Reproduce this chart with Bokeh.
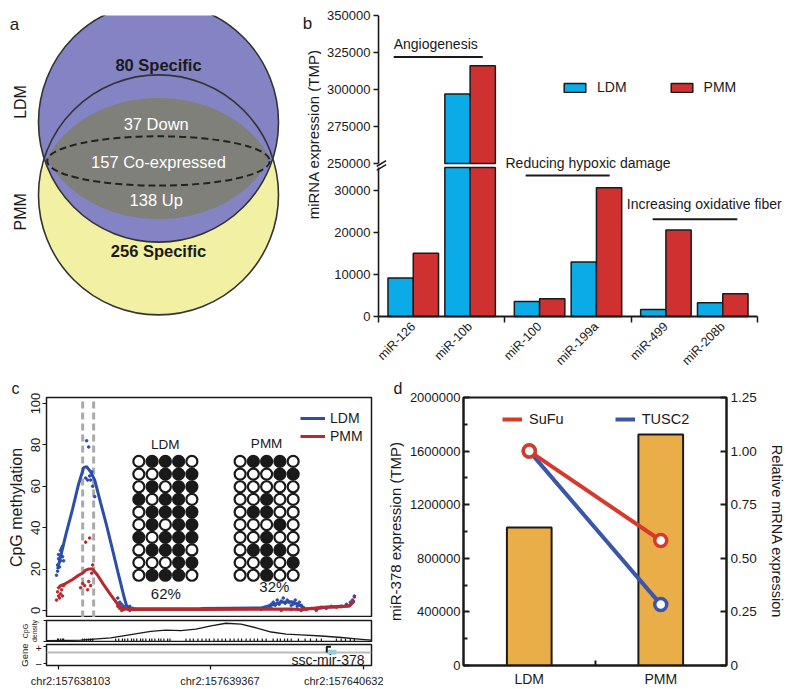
import numpy as np
from math import pi
from bokeh.plotting import figure
from bokeh.layouts import column, row
from bokeh.models import (Range1d, FixedTicker, Label, Legend, LegendItem, LinearAxis, Title,
                          NumeralTickFormatter, PrintfTickFormatter)
from bokeh.core.properties import value
from bokeh.embed import file_html
from bokeh.resources import INLINE

FONT = "Liberation Sans"
INK = "#1a1a1a"

# ======================= DATA =======================
# (a) Venn diagram of expressed miRNAs
venn_sets = ["LDM", "PMM"]
venn_ldm_specific = 80
venn_down = 37
venn_coexpressed = 157
venn_up = 138
venn_pmm_specific = 256

# (b) miRNA expression (TMP)
mirnas = ["miR-126", "miR-10b", "miR-100", "miR-199a", "miR-499", "miR-208b"]
functions = ["Angiogenesis", "Reducing hypoxic damage", "Increasing oxidative fiber"]
series_b = ["LDM", "PMM"]
ldm_tmp = [9200, 297000, 3550, 13000, 1650, 3300]
pmm_tmp = [15100, 316000, 4250, 30700, 20600, 5450]
b_lower_ticks = [0, 10000, 20000, 30000]
b_upper_ticks = [250000, 275000, 300000, 325000, 350000]

# (c) CpG methylation around ssc-mir-378 (positions: bp offset from region_start)
region_start = 157638103
chr_ticks = [157638103, 157639367, 157640632]
highlight_bp = [157638303, 157638394]
ldm_fit_off = [-8, 17, 58, 116, 166, 208, 233, 266, 300, 349, 399, 449, 499, 541, 566, 600,
               1181, 1681, 1764, 1847, 1930, 1988, 2038, 2138, 2221, 2346, 2413, 2454]
ldm_fit_val = [20, 26, 36, 49, 61, 69, 69.5, 67, 63, 52, 41, 29, 17, 7, 2, 0.8,
               1, 1.2, 2.5, 4, 4.2, 3, 1, 0.8, 1.5, 2, 2.2, 5]
pmm_fit_off = [-8, 17, 58, 116, 166, 200, 225, 250, 283, 324, 374, 433, 491, 532, 582,
               1181, 1930, 2013, 2096, 2180, 2346, 2413, 2454]
pmm_fit_val = [10.5, 12, 13, 15, 17, 18, 19.5, 20, 20, 17, 12.5, 7.5, 3, 1, 0.5,
               0.5, 0.7, 0.3, 1, 1.6, 1.8, 2.3, 4.5]
ldm_dot_off = [-17, -8, -8, 0, 0, 8, 17, 17, 25, 33, 33, 42,
               225, 233, 241, 250, 258, 266, 275, 283, 300,
               491, 508, 524, 541, 557, 574, 591, 616, 640,
               1747, 1764, 1781, 1797, 1814, 1830, 1847, 1864, 1880, 1897, 1914, 1930, 1947, 1963,
               1980, 1997, 2013, 2030,
               2346, 2388, 2421, 2438, 2454]
ldm_dot_val = [17, 19, 22, 25, 27, 21, 24, 29, 30, 26, 31, 24,
               64, 82, 63, 79, 65, 63, 67, 60, 55,
               6, 4, 3, 2, 1, 1.5, 2, 1, 0.5,
               2, 3, 4, 2.5, 5, 3, 4.5, 6, 3.5, 5, 4, 2.5, 3, 5, 2, 4, 2.5, 1.5,
               2, 3, 4, 5, 7]
pmm_dot_off = [-17, -8, 0, 8, 17, 25, 33, 42,
               183, 200, 216, 225, 241, 250, 258, 266, 275, 283,
               491, 508, 524, 541, 566, 591, 616,
               1680, 1764, 1847, 1930, 2013, 2055, 2096, 2138, 2180, 2221, 2263, 2305, 2346, 2388,
               2421, 2438, 2454]
pmm_dot_val = [5, 9, 7, 6, 8, 10, 7, 12,
               11, 13, 12, 33, 10, 14, 35, 12, 18, 22,
               2, 1, 0, 0.5, 1, 0, 0.5,
               0.5, 1, 0, 0.5, 0, 0.5, 1, 0, 1.5, 1, 2, 1.5, 2, 2.5, 3, 4, 6.5]
# bisulfite clones (1 = methylated CpG)
ldm_clones = ["01110", "00111", "01011", "10110", "01111", "01011", "10111", "01110", "00011", "01110"]
pmm_clones = ["01110", "00011", "00000", "00100", "01100", "00010", "00100", "01110", "00101", "00100"]
dens_off = [-100, 183, 433, 599, 765, 890, 1015, 1140, 1265, 1389, 1514, 1639, 1764, 1889,
            2013, 2180, 2346, 2513, 2596]
dens_val = [0.04, 0.07, 0.2, 0.38, 0.55, 0.62, 0.6, 0.68, 0.86, 1.0, 0.95, 0.75, 0.52, 0.4,
            0.36, 0.3, 0.22, 0.12, 0.07]
cpg_site_off = [-8, 0, 17, 33, 42, 200, 216, 233, 250, 266, 283, 474, 499, 530, 549, 574, 605,
                624, 649, 680, 699, 724, 755, 774, 799, 830, 849, 874, 905, 924, 1057, 1090,
                1118, 1156, 1190, 1223, 1251, 1290, 1323, 1356, 1385, 1423, 1456, 1490, 1518,
                1556, 1590, 1623, 1651, 1690, 1722, 1780, 1815, 1840, 1875, 1900, 1930, 1990,
                2045, 2090, 2140, 2180, 2305, 2345, 2380, 2420, 2454]
gene_name = "ssc-mir-378"
gene_bp = [157640333, 157640408]

# (d) miR-378 and targets
d_groups = ["LDM", "PMM"]
mir378_tmp = [1030000, 1724000]
sufu_rel = [1.00, 0.583]
tusc2_rel = [1.00, 0.285]

# ======================= STYLE =======================
C_VENN_TOP = "#8484c4"
C_VENN_BOT = "#f2f0a2"
C_VENN_MID = "#80807a"
C_LDM_B = "#0aabe6"
C_PMM_B = "#cf3030"
C_BLUE_C = "#2c4ea8"
C_RED_C = "#b42a2f"
C_BAR_D = "#eaae48"
C_RED_D = "#d63a2a"
C_BLUE_D = "#3a56a8"


def mk(width, height, **kw):
    p = figure(width=width, height=height, output_backend="svg", toolbar_location=None, **kw)
    p.xgrid.visible = False
    p.ygrid.visible = False
    return p


def style_axis(ax, size="13px"):
    ax.major_label_text_font = FONT
    ax.major_label_text_font_size = size
    ax.major_label_text_color = INK
    ax.axis_line_color = INK
    ax.major_tick_line_color = INK
    ax.minor_tick_line_color = INK
    ax.axis_label_text_font = FONT
    ax.axis_label_text_font_style = "normal"
    ax.axis_label_text_color = INK


def lab(p, text, x, y, size, xu="data", yu="data", **kw):
    opts = dict(text_align="center", text_baseline="middle", text_color=INK)
    opts.update(kw)
    p.add_layout(Label(x=x, y=y, x_units=xu, y_units=yu, text=text, text_font=FONT,
                       text_font_size=size, **opts))


def letter(p, txt, offset):
    p.add_layout(Title(text=txt, align="left", offset=offset, standoff=2, text_font=FONT,
                       text_font_size="16px", text_font_style="normal", text_color=INK), "above")


def ptext(p, x, y, txt, size, **kw):
    opts = dict(text_color=INK, text_align="center", text_baseline="middle")
    opts.update(kw)
    p.text(x=[x], y=[y], text=[txt], text_font=value(FONT), text_font_size=size, **opts)


TOP_H = 375
BOT_H = 314

# ======================= PANEL A (also hosts the "b" letter and b's y title) ==============
PA_W = 321
pa = mk(PA_W, TOP_H, x_range=Range1d(0, PA_W), y_range=Range1d(TOP_H, 0),
        x_axis_location=None, y_axis_location=None, min_border=0)
pa.outline_line_color = None
cx, cy1, cy2, R = 158, 132, 222, 120
pa.circle(x=[cx], y=[cy2], radius=R, fill_color=C_VENN_BOT, line_color=None)
pa.circle(x=[cx], y=[cy1], radius=R, fill_color=C_VENN_TOP, line_color=None)
a0 = np.arcsin((cy2 - cy1) / 2 / R)
t1 = np.linspace(a0, pi - a0, 80)
t2 = np.linspace(pi + a0, 2 * pi - a0, 80)
lx = np.concatenate([cx + R * np.cos(t1), cx + R * np.cos(t2)])
ly = np.concatenate([cy1 + R * np.sin(t1), cy2 + R * np.sin(t2)])
pa.patch(lx, ly, fill_color=C_VENN_MID, line_color=None)
pa.circle(x=[cx, cx], y=[cy1, cy2], radius=R, fill_color=None, line_color="#333333", line_width=1.6)
pa.ellipse(x=[cx], y=[(cy1 + cy2) / 2 + 3], width=2 * R * np.cos(a0), height=61,
           fill_color=None, line_color="#222222", line_width=2, line_dash="7 4")
venn_text = [f"{venn_ldm_specific} Specific", f"{venn_down}  Down",
             f"{venn_coexpressed} Co-expressed", f"{venn_up}  Up", f"{venn_pmm_specific} Specific"]
venn_y = [61, 134, 181, 228, 292]
for t, yy, col, st in zip(venn_text, venn_y, [INK, "white", "white", "white", INK],
                          ["bold", "normal", "normal", "normal", "bold"]):
    ptext(pa, cx, yy, t, "16.5px", text_color=col, text_font_style=st)
pa.text(x=[20, 20], y=[107, 243], text=venn_sets, angle=pi / 2, text_font=value(FONT),
        text_font_size="16px", text_color=INK, text_align="center", text_baseline="middle")
ptext(pa, 14, 11, "a", "17px")
ptext(pa, 307, 10, "b", "17px")
ptext(pa, 313, 147, "miRNA expression (TMP)", "15px", angle=pi / 2)

# ======================= PANEL B =======================
PB_W = 787 - PA_W
F_LEFT, AXIS_X_RIGHT, F_TOP, ZERO_Y = 376, 757, 15, 318
Y_PAD_PX = 2                     # frame extends 2px below the zero line
LOWER_PX, GAP_PX = 150, 4
UPPER_PX = ZERO_Y - F_TOP - LOWER_PX - GAP_PX
BREAK_LO, BREAK_HI, UPPER_MAX = 35500, 250000, 350000
k_lo = BREAK_LO / LOWER_PX
up_per_px = (UPPER_MAX - BREAK_HI) / UPPER_PX
up_start = BREAK_HI - (LOWER_PX + GAP_PX + Y_PAD_PX) * up_per_px
X_PAD = 0.032
ux = (6 + X_PAD) / (AXIS_X_RIGHT - F_LEFT)
x_end = 6 + (787 - AXIS_X_RIGHT) * ux


def to_axis(px_above_zero):
    return px_above_zero * k_lo


def up_to_axis(v):
    return to_axis(LOWER_PX + GAP_PX + (v - BREAK_HI) / up_per_px)


pb = mk(PB_W, TOP_H, x_range=Range1d(-X_PAD, x_end),
        y_range=Range1d(-Y_PAD_PX * k_lo, (ZERO_Y - F_TOP) * k_lo),
        min_border_left=F_LEFT - PA_W, min_border_right=0,
        min_border_top=F_TOP, min_border_bottom=TOP_H - ZERO_Y - Y_PAD_PX)
pb.outline_line_color = None
pb.extra_y_ranges = {"up": Range1d(up_start, UPPER_MAX)}

idx = np.arange(len(mirnas))
centers = np.round(2 * (idx // 2) + 0.55 + 0.9 * (idx % 2), 2)
ldm_v = np.array(ldm_tmp, dtype=float)
pmm_v = np.array(pmm_tmp, dtype=float)
bw = 0.4
bar_kw = dict(width=bw, line_color=INK, line_width=1.5)
r_ldm = pb.vbar(x=centers - bw / 2, bottom=0, top=np.minimum(ldm_v, BREAK_LO), fill_color=C_LDM_B, **bar_kw)
r_pmm = pb.vbar(x=centers + bw / 2, bottom=0, top=np.minimum(pmm_v, BREAK_LO), fill_color=C_PMM_B, **bar_kw)
hl = ldm_v > BREAK_HI
hp = pmm_v > BREAK_HI
pb.vbar(x=(centers - bw / 2)[hl], bottom=BREAK_HI, top=ldm_v[hl], fill_color=C_LDM_B,
        y_range_name="up", **bar_kw)
pb.vbar(x=(centers + bw / 2)[hp], bottom=BREAK_HI, top=pmm_v[hp], fill_color=C_PMM_B,
        y_range_name="up", **bar_kw)

# axis lines (y axis broken)
pb.segment(x0=[0], x1=[0], y0=[0], y1=[BREAK_LO], line_color=INK, line_width=1.6)
pb.segment(x0=[0], x1=[0], y0=[BREAK_HI], y1=[UPPER_MAX], line_color=INK, line_width=1.6,
           y_range_name="up")
pb.segment(x0=[0], x1=[6], y0=[0], y1=[0], line_color=INK, line_width=2)
sl_y0 = [to_axis(LOWER_PX - 3), to_axis(LOWER_PX + 1)]
sl_y1 = [to_axis(LOWER_PX + 3), to_axis(LOWER_PX + 7)]
pb.segment(x0=[-X_PAD, -X_PAD], x1=[0.12, 0.12], y0=sl_y0, y1=sl_y1, line_color=INK, line_width=1.5)

yt = list(b_lower_ticks) + [int(round(up_to_axis(v))) for v in b_upper_ticks]
ylabels = [str(v) for v in b_lower_ticks] + [str(v) for v in b_upper_ticks]
pb.yaxis.ticker = FixedTicker(ticks=yt)
pb.yaxis.major_label_overrides = {t: s for t, s in zip(yt, ylabels)}
style_axis(pb.yaxis[0], "13px")
pb.yaxis.axis_line_color = None
pb.yaxis.major_tick_out = 3
pb.yaxis.major_tick_in = 2
pb.yaxis.major_tick_line_width = 1.5
pb.yaxis.major_label_standoff = 3

xt = [float(c) for c in centers]
pb.xaxis.ticker = FixedTicker(ticks=xt, minor_ticks=[0, 2, 4, 6])
pb.xaxis.major_label_overrides = {t: m for t, m in zip(xt, mirnas)}
style_axis(pb.xaxis[0], "12.5px")
pb.xaxis.axis_line_color = None
pb.xaxis.major_label_orientation = pi / 4
pb.xaxis.major_tick_out = 0
pb.xaxis.major_tick_in = 0
pb.xaxis.minor_tick_out = 4
pb.xaxis.minor_tick_in = 2
pb.xaxis.minor_tick_line_width = 1.5
pb.xaxis.major_label_standoff = 2

# function annotations
ann_x = [0.24, 2.01, 3.93]
ann_y = [up_to_axis(331000), to_axis(155), to_axis(113)]
ul_x0 = [0.24, 2.33, 4.34]
ul_x1 = [1.65, 3.66, 5.68]
ul_y = [up_to_axis(322000), to_axis(142), to_axis(98)]
for t, x, y in zip(functions, ann_x, ann_y):
    lab(pb, t, x, y, "14px", text_align="left")
pb.segment(x0=ul_x0, x1=ul_x1, y0=ul_y, y1=ul_y, line_color=INK, line_width=2)

leg_b = Legend(items=[LegendItem(label=series_b[0], renderers=[r_ldm]),
                      LegendItem(label=series_b[1], renderers=[r_pmm])],
               location=(185, 223), orientation="horizontal", glyph_width=27, glyph_height=11,
               label_standoff=9, spacing=41, padding=0, margin=0, label_height=14,
               label_text_font=FONT, label_text_font_size="14px", label_text_color=INK,
               border_line_color=None, background_fill_alpha=0)
pb.add_layout(leg_b)

# ======================= PANEL C =======================
PC_W = 383
xr_c = Range1d(region_start - 100, region_start + 2596)

pc = mk(PC_W, 242, x_range=xr_c, y_range=Range1d(-3.4, 102.9), x_axis_location=None,
        min_border_left=46, min_border_right=12, min_border_top=22, min_border_bottom=0)
pc.outline_line_color = INK
pc.outline_line_width = 1.5
pc.segment(x0=highlight_bp, x1=highlight_bp, y0=-3.4, y1=102.9, line_color="#aaaaaa",
           line_width=3, line_dash="7 4")
pc.scatter(np.array(ldm_dot_off) + region_start, ldm_dot_val, size=2.6, color=C_BLUE_C)
pc.scatter(np.array(pmm_dot_off) + region_start, pmm_dot_val, size=2.6, color=C_RED_C)
l_ldm = pc.line(np.array(ldm_fit_off) + region_start, ldm_fit_val, line_color=C_BLUE_C, line_width=3)
l_pmm = pc.line(np.array(pmm_fit_off) + region_start, pmm_fit_val, line_color=C_RED_C, line_width=3)

rows_n = len(ldm_clones)
cols_n = len(ldm_clones[0])
for clones, x0, title, ty, px_, py_ in [(ldm_clones, region_start + 666, "LDM", 80.2, region_start + 890, 8.2),
                                         (pmm_clones, region_start + 1506, "PMM", 80.7, region_start + 1790, 11.6)]:
    xs, ys, fills = [], [], []
    for r_i, s in enumerate(clones):
        for c_i, ch in enumerate(s):
            xs.append(x0 + c_i * 110)
            ys.append(72.0 - r_i * 6.11)
            fills.append(INK if ch == "1" else "white")
    pc.scatter(xs, ys, size=11, fill_color=fills, line_color=INK, line_width=2.2)
    meth = sum(s.count("1") for s in clones)
    pct = round(100 * meth / (rows_n * cols_n))
    lab(pc, title, x0 + 2 * 110, ty, "13.5px")
    lab(pc, f"{pct}%", px_, py_, "15px")

pc.yaxis.ticker = FixedTicker(ticks=[0, 20, 40, 60, 80, 100])
style_axis(pc.yaxis[0], "13px")
pc.yaxis.major_label_orientation = "vertical"
pc.yaxis.major_tick_out = 4
pc.yaxis.major_tick_in = 0
pc.yaxis.major_label_standoff = 2
pc.yaxis.axis_line_color = None
pc.yaxis.axis_label = "CpG methylation"
pc.yaxis.axis_label_text_font_size = "16px"
pc.yaxis.axis_label_standoff = 4
letter(pc, "c", -35)

leg_c = Legend(items=[LegendItem(label="LDM", renderers=[l_ldm]), LegendItem(label="PMM", renderers=[l_pmm])],
               location=(254, 173), glyph_width=25, glyph_height=16, label_height=16, spacing=2,
               label_standoff=5, padding=0, margin=0, label_text_font=FONT,
               label_text_font_size="14px", label_text_color=INK,
               border_line_color=None, background_fill_alpha=0)
pc.add_layout(leg_c)

# density track
pdn = mk(PC_W, 25, x_range=xr_c, y_range=Range1d(0, 1.15), x_axis_location=None,
         min_border_left=46, min_border_right=12, min_border_top=3, min_border_bottom=1)
pdn.outline_line_color = INK
pdn.outline_line_width = 1.5
pdn.line(np.array(dens_off) + region_start, dens_val, line_color=INK, line_width=1.3)
sites = np.array(cpg_site_off) + region_start
pdn.segment(x0=sites, x1=sites, y0=0, y1=0.17, line_color=INK, line_width=1.2)
pdn.yaxis.ticker = FixedTicker(ticks=[0, 1.15])
pdn.yaxis.major_label_overrides = {0: "", 1.15: ""}
style_axis(pdn.yaxis[0], "7px")
pdn.yaxis.axis_line_color = None
pdn.yaxis.major_tick_out = 3
pdn.yaxis.major_tick_in = 0
pdn.yaxis.axis_label = "CpG\ndensity"
pdn.yaxis.axis_label_text_font_size = "7px"
pdn.yaxis.axis_label_standoff = 6

# gene track
pg = mk(PC_W, 47, x_range=xr_c, y_range=Range1d(-1.2, 1.2),
        min_border_left=46, min_border_right=12, min_border_top=2, min_border_bottom=24)
pg.outline_line_color = INK
pg.outline_line_width = 1.5
pg.segment(x0=[region_start - 100], x1=[region_start + 2596], y0=[0.29], y1=[0.29],
           line_color="#bbbbbb", line_width=2)
pg.quad(left=[gene_bp[0]], right=[gene_bp[1]], bottom=[0.05], top=[0.6],
        fill_color="#8fd0dc", line_color=None)
pg.line([gene_bp[0] - 5, gene_bp[0] - 5, gene_bp[0] + 30], [0.3, 0.95, 0.95], line_color=INK, line_width=2)
lab(pg, gene_name, gene_bp[0] + 5, -0.62, "14px")
chr_label_nudge = [100, 75, -158]
chr_label_pos = [t + n for t, n in zip(chr_ticks, chr_label_nudge)]
pg.xaxis.ticker = FixedTicker(ticks=chr_label_pos, minor_ticks=chr_ticks)
pg.xaxis.major_label_overrides = {p_: f"chr2:{t}" for p_, t in zip(chr_label_pos, chr_ticks)}
style_axis(pg.xaxis[0], "11px")
pg.xaxis.axis_line_color = None
pg.xaxis.major_tick_out = 0
pg.xaxis.major_tick_in = 0
pg.xaxis.minor_tick_out = 4
pg.xaxis.minor_tick_in = 0
pg.xaxis.minor_tick_line_width = 1.3
pg.xaxis.major_label_standoff = 5
pg.yaxis.ticker = FixedTicker(ticks=[1, -1])
pg.yaxis.major_label_overrides = {1: "+", -1: "\u2013"}
style_axis(pg.yaxis[0], "10px")
pg.yaxis.axis_line_color = None
pg.yaxis.major_tick_out = 3
pg.yaxis.major_tick_in = 0
pg.yaxis.major_label_standoff = 2
pg.yaxis.axis_label = "Gene"
pg.yaxis.axis_label_text_font_size = "9.5px"
pg.yaxis.axis_label_standoff = 3

# ======================= PANEL D =======================
PD_W = 787 - PC_W
pdd = mk(PD_W, BOT_H, x_range=Range1d(0.5, 2.5), y_range=Range1d(0, 2000000),
         min_border_left=458 - PC_W, min_border_right=787 - 729, min_border_top=22, min_border_bottom=22)
pdd.outline_line_color = INK
pdd.outline_line_width = 2
pdd.extra_y_ranges = {"rel": Range1d(0, 1.25)}
pos_d = np.arange(1, len(d_groups) + 1)
pdd.vbar(x=pos_d, top=mir378_tmp, width=0.34, fill_color=C_BAR_D, line_color=INK, line_width=2)
l_tusc = pdd.line(pos_d, tusc2_rel, y_range_name="rel", line_color=C_BLUE_D, line_width=4)
l_sufu = pdd.line(pos_d, sufu_rel, y_range_name="rel", line_color=C_RED_D, line_width=4)
pdd.scatter(pos_d, tusc2_rel, y_range_name="rel", size=12, fill_color="white",
            line_color=C_BLUE_D, line_width=3.5)
pdd.scatter(pos_d, sufu_rel, y_range_name="rel", size=12, fill_color="white",
            line_color=C_RED_D, line_width=3.5)

pdd.yaxis.ticker = FixedTicker(ticks=[0, 400000, 800000, 1200000, 1600000, 2000000],
                               minor_ticks=[200000, 600000, 1000000, 1400000, 1800000])
pdd.yaxis.formatter = NumeralTickFormatter(format="0")
style_axis(pdd.yaxis[0], "13px")
pdd.yaxis.major_tick_in = 6
pdd.yaxis.major_tick_out = 0
pdd.yaxis.minor_tick_in = 4
pdd.yaxis.minor_tick_out = 0
pdd.yaxis.major_label_standoff = 3
pdd.yaxis.axis_line_width = 2
pdd.yaxis.major_tick_line_width = 2
pdd.yaxis.minor_tick_line_width = 2
pdd.yaxis.axis_label = "miR-378 expression (TMP)"
pdd.yaxis.axis_label_text_font_size = "15px"
pdd.yaxis.axis_label_standoff = 3

ry = LinearAxis(y_range_name="rel")
ry.ticker = FixedTicker(ticks=[0, 0.25, 0.5, 0.75, 1, 1.25])
ry.formatter = PrintfTickFormatter(format="%.2f")
ry.major_label_overrides = {0: "0"}
style_axis(ry, "13.5px")
ry.major_tick_in = 6
ry.major_tick_out = 0
ry.major_label_standoff = 4
ry.axis_line_width = 2
ry.major_tick_line_width = 2
ry.axis_label = "Relative mRNA expression"
ry.axis_label_text_font_size = "14.5px"
ry.axis_label_standoff = 9
pdd.add_layout(ry, "right")

pdd.xaxis.ticker = FixedTicker(ticks=[1, 2], minor_ticks=[1.5])
pdd.xaxis.major_label_overrides = {1: d_groups[0], 2: d_groups[1]}
style_axis(pdd.xaxis[0], "14px")
pdd.xaxis.major_tick_in = 0
pdd.xaxis.major_tick_out = 0
pdd.xaxis.minor_tick_in = 5
pdd.xaxis.minor_tick_out = 0
pdd.xaxis.minor_tick_line_width = 2
pdd.xaxis.axis_line_width = 2
pdd.xaxis.major_label_standoff = 5
letter(pdd, "d", -70)

leg_d = Legend(items=[LegendItem(label="SuFu", renderers=[l_sufu]),
                      LegendItem(label="TUSC2", renderers=[l_tusc])],
               location=(39, 238), orientation="horizontal", glyph_width=20, glyph_height=14,
               label_height=14, label_standoff=7, spacing=51, padding=0, margin=0,
               label_text_font=FONT, label_text_font_size="14.5px", label_text_color=INK,
               border_line_color=None, background_fill_alpha=0)
pdd.add_layout(leg_d)

# ======================= LAYOUT =======================
layout = column(row(pa, pb), row(column(pc, pdn, pg), pdd))
open("out.html", "w").write(file_html(layout, INLINE))
